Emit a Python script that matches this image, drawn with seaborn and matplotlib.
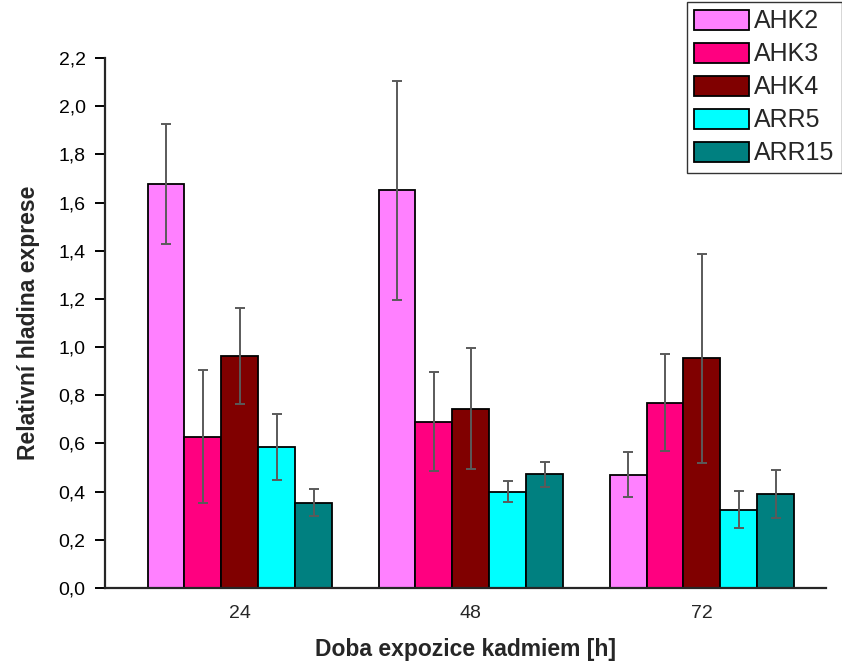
import pandas as pd
import seaborn as sns
import matplotlib.pyplot as plt

# hodnoty
casy = ["24", "48", "72"]
geny = ["AHK2", "AHK3", "AHK4", "ARR5", "ARR15"]
ahk2 = [1.677, 1.65, 0.47]
ahk3 = [0.628, 0.69, 0.769]
ahk4 = [0.964, 0.745, 0.953]
arr5 = [0.587, 0.40, 0.325]
arr15 = [0.354, 0.472, 0.39]
ahk2_err = [0.25, 0.455, 0.094]
ahk3_err = [0.275, 0.205, 0.202]
ahk4_err = [0.20, 0.25, 0.433]
arr5_err = [0.137, 0.044, 0.077]
arr15_err = [0.055, 0.053, 0.098]

barvy = ["#FF80FF", "#FF0080", "#800000", "#00FFFF", "#008080"]


def main():
    sns.set_style("ticks")
    plt.rcParams["font.family"] = ["Liberation Sans", "DejaVu Sans"]

    hodnoty = [ahk2, ahk3, ahk4, arr5, arr15]
    chyby = [ahk2_err, ahk3_err, ahk4_err, arr5_err, arr15_err]
    rows = []
    for g, vals in zip(geny, hodnoty):
        for c, v in zip(casy, vals):
            rows.append({"cas": c, "gen": g, "hodnota": v})
    df = pd.DataFrame(rows)

    fig = plt.figure(figsize=(8.42, 6.61), dpi=100)
    ax = fig.add_axes([0.1247, 0.1104, 0.981 - 0.1247, 0.9123 - 0.1104])

    sns.barplot(data=df, x="cas", y="hodnota", hue="gen", order=casy,
                hue_order=geny, palette=barvy, width=0.8, errorbar=None,
                edgecolor="black", linewidth=1.3, saturation=1, ax=ax)

    # chybové úsečky
    for cont, err in zip(ax.containers, chyby):
        xs = [p.get_x() + p.get_width() / 2 for p in cont.patches]
        ys = [p.get_height() for p in cont.patches]
        ax.errorbar(xs, ys, yerr=err, fmt="none", ecolor="#5a5a5a",
                    elinewidth=1.4, capsize=3.8, capthick=1.4, zorder=5)

    ax.set_ylim(0, 2.2)
    ax.set_xlim(-0.584, 2.537)
    ax.set_yticks([i / 10 for i in range(0, 23, 2)])
    ax.set_yticklabels([f"{i / 10:.1f}".replace(".", ",") for i in range(0, 23, 2)])
    sns.despine(ax=ax)
    ax.spines["left"].set_linewidth(1.6)
    ax.spines["bottom"].set_linewidth(1.6)
    ax.tick_params(axis="y", direction="out", length=7, width=1.4, pad=7,
                   labelsize=14, colors="black")
    ax.tick_params(axis="x", length=0, labelsize=14, pad=12)

    ax.set_xlabel("Doba expozice kadmiem [h]", fontsize=16.5, fontweight="bold", labelpad=12)
    ax.set_ylabel("Relativní hladina exprese", fontsize=16.5, fontweight="bold", labelpad=13)

    handles, labels = ax.get_legend_handles_labels()
    ax.legend(handles, labels, loc="upper right", bbox_to_anchor=(1.0, 0.997),
              bbox_transform=fig.transFigure, fontsize=18, frameon=True,
              fancybox=False, edgecolor="black", handlelength=2.2, handleheight=0.85,
              labelspacing=0.36, handletextpad=0.2, borderpad=0.3, borderaxespad=0)
    ax.get_legend().get_frame().set_linewidth(1.0)

    plt.savefig("out.png", dpi=100)


if __name__ == "__main__":
    main()
